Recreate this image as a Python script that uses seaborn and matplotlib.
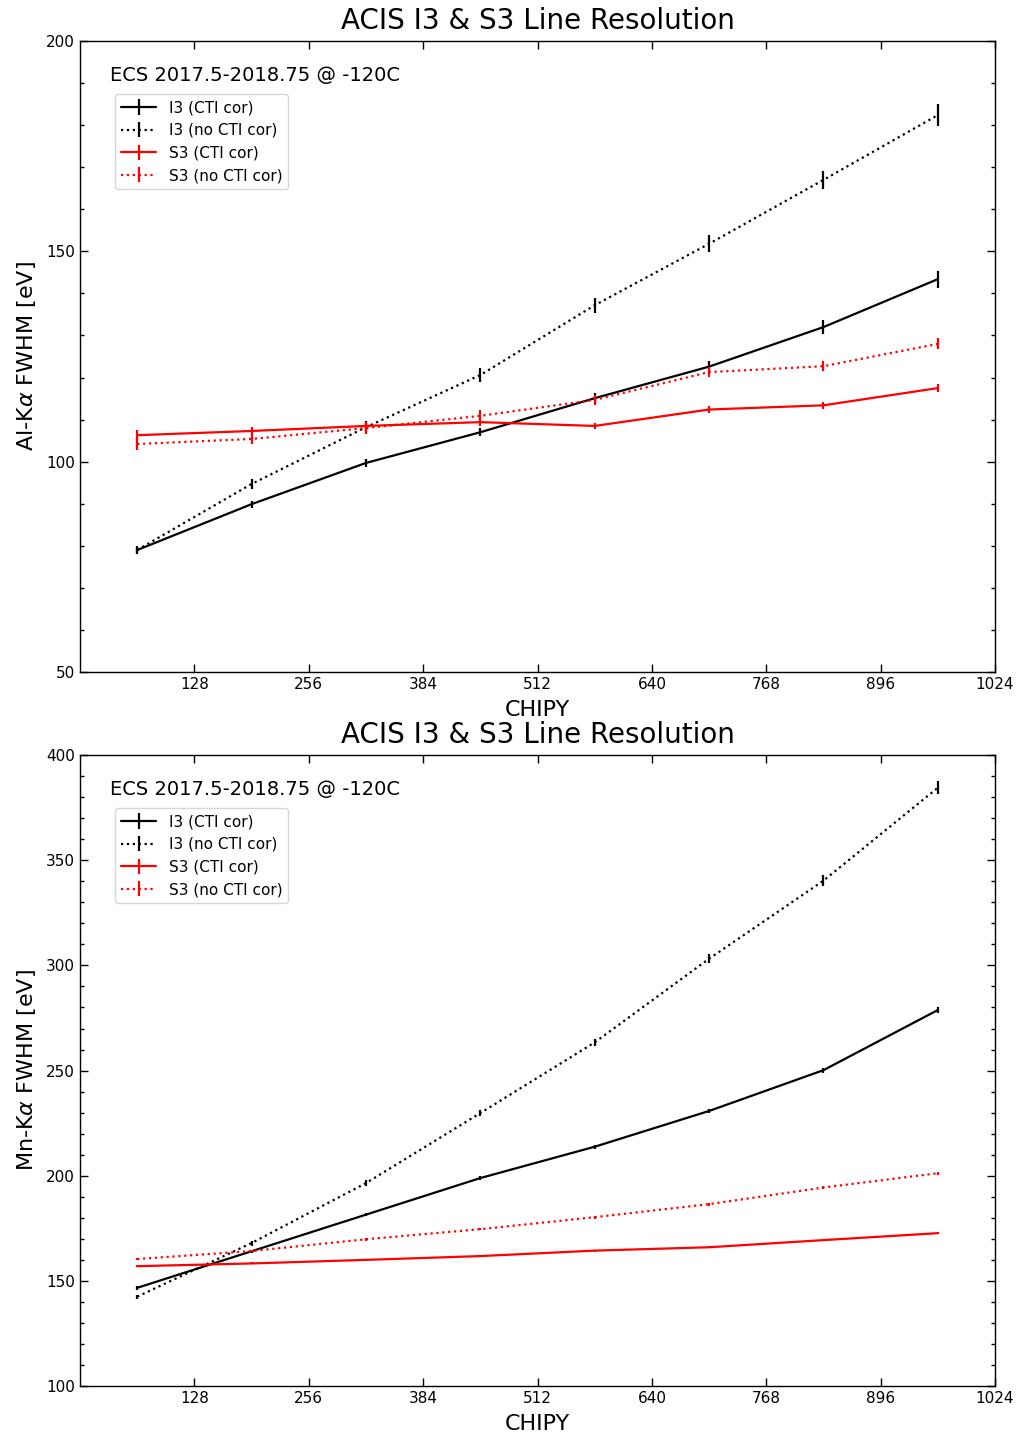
import numpy as np
import pandas as pd
import seaborn as sns
import matplotlib
matplotlib.use("Agg")
import matplotlib.pyplot as plt
from matplotlib.container import ErrorbarContainer
from matplotlib.ticker import MultipleLocator

# chip y positions (bin centres)
chipy = [64, 192, 320, 448, 576, 704, 832, 960]

# Al-K alpha FWHM [eV]
al_i3_cor = [79.0, 89.9, 99.7, 107.0, 115.1, 122.6, 132.0, 143.4]
al_i3_cor_err = [0.8, 0.8, 0.9, 1.0, 1.2, 1.4, 1.6, 2.0]
al_i3_raw = [79.0, 94.7, 108.2, 120.6, 137.2, 151.8, 167.0, 182.4]
al_i3_raw_err = [1.0, 1.2, 1.4, 1.6, 1.8, 2.0, 2.2, 2.6]
al_s3_cor = [106.3, 107.3, 108.5, 109.4, 108.5, 112.4, 113.4, 117.5]
al_s3_cor_err = [1.2, 1.0, 1.0, 1.0, 0.8, 0.9, 0.9, 1.0]
al_s3_raw = [104.2, 105.4, 108.0, 110.9, 114.7, 121.3, 122.7, 128.0]
al_s3_raw_err = [1.5, 1.3, 1.3, 1.3, 1.2, 1.2, 1.2, 1.3]

# Mn-K alpha FWHM [eV]
mn_i3_cor = [146.7, 164.1, 181.5, 198.9, 213.8, 230.8, 250.2, 278.8]
mn_i3_cor_err = [0.8, 0.8, 0.8, 0.9, 1.0, 1.1, 1.2, 1.6]
mn_i3_raw = [142.5, 168.0, 196.5, 229.8, 263.4, 303.2, 340.3, 384.5]
mn_i3_raw_err = [1.0, 1.2, 1.4, 1.6, 1.8, 2.2, 2.5, 3.2]
mn_s3_cor = [157.0, 158.3, 160.0, 161.8, 164.4, 166.0, 169.4, 172.7]
mn_s3_cor_err = [0.5, 0.5, 0.5, 0.5, 0.5, 0.5, 0.5, 0.6]
mn_s3_raw = [160.4, 164.2, 169.8, 174.6, 180.3, 186.5, 194.4, 201.2]
mn_s3_raw_err = [0.6, 0.6, 0.6, 0.6, 0.7, 0.7, 0.8, 0.8]

labels = ["I3 (CTI cor)", "I3 (no CTI cor)", "S3 (CTI cor)", "S3 (no CTI cor)"]
colors = ["black", "black", "red", "red"]
styles = ["-", ":", "-", ":"]

sns.set_style("white")
plt.rcParams["font.family"] = ["DejaVu Sans"]
plt.rcParams["mathtext.fontset"] = "dejavusans"
plt.rcParams["text.color"] = "black"
plt.rcParams["axes.labelcolor"] = "black"
plt.rcParams["xtick.color"] = "black"
plt.rcParams["ytick.color"] = "black"

fig = plt.figure(figsize=(10.19, 14.35), dpi=100)
ax1 = fig.add_axes([0.0785, 0.5317, 0.898, 0.4397])
ax2 = fig.add_axes([0.0785, 0.0341, 0.898, 0.4397])


def panel(ax, series, ylabel, ylim, major):
    handles = []
    for (y, err), lab, c, ls in zip(series, labels, colors, styles):
        df = pd.DataFrame({"chipy": chipy, "fwhm": y})
        sns.lineplot(data=df, x="chipy", y="fwhm", ax=ax, color=c,
                     linestyle=ls, linewidth=1.6, legend=False)
        line = ax.lines[-1]
        eb = ax.errorbar(chipy, y, yerr=err, fmt="none", ecolor=c,
                         elinewidth=1.6, capsize=0)
        handles.append(ErrorbarContainer((line, (), tuple(eb.lines[2])),
                                         has_xerr=False, has_yerr=True,
                                         label=lab))
    ax.set_xlim(0, 1024)
    ax.set_ylim(*ylim)
    ax.set_xticks([128, 256, 384, 512, 640, 768, 896, 1024])
    ax.yaxis.set_major_locator(MultipleLocator(major))
    ax.yaxis.set_minor_locator(MultipleLocator(10))
    ax.tick_params(which="both", direction="in", top=True, right=True,
                   left=True, bottom=True, labelsize=11, color="black")
    ax.tick_params(which="major", length=6, width=1)
    ax.tick_params(which="minor", length=3, width=1)
    for s in ax.spines.values():
        s.set_color("black")
        s.set_linewidth(1.0)
    ax.set_xlabel("CHIPY", fontsize=16, labelpad=6)
    ax.set_ylabel(ylabel, fontsize=16, labelpad=6)
    ax.set_title("ACIS I3 & S3 Line Resolution", fontsize=20, pad=9)
    ax.text(0.033, 0.945, "ECS 2017.5-2018.75 @ -120C", transform=ax.transAxes,
            fontsize=14, va="center")
    ax.legend(handles=handles, labels=labels, loc="upper left",
              bbox_to_anchor=(0.03, 0.928), fontsize=11, handlelength=2.3,
              frameon=True, fancybox=True, edgecolor="#cccccc")


panel(ax1, [(al_i3_cor, al_i3_cor_err), (al_i3_raw, al_i3_raw_err),
            (al_s3_cor, al_s3_cor_err), (al_s3_raw, al_s3_raw_err)],
      r"Al-K$\alpha$ FWHM [eV]", (50, 200), 50)
panel(ax2, [(mn_i3_cor, mn_i3_cor_err), (mn_i3_raw, mn_i3_raw_err),
            (mn_s3_cor, mn_s3_cor_err), (mn_s3_raw, mn_s3_raw_err)],
      r"Mn-K$\alpha$ FWHM [eV]", (100, 400), 50)

fig.savefig("out.png", dpi=100)
